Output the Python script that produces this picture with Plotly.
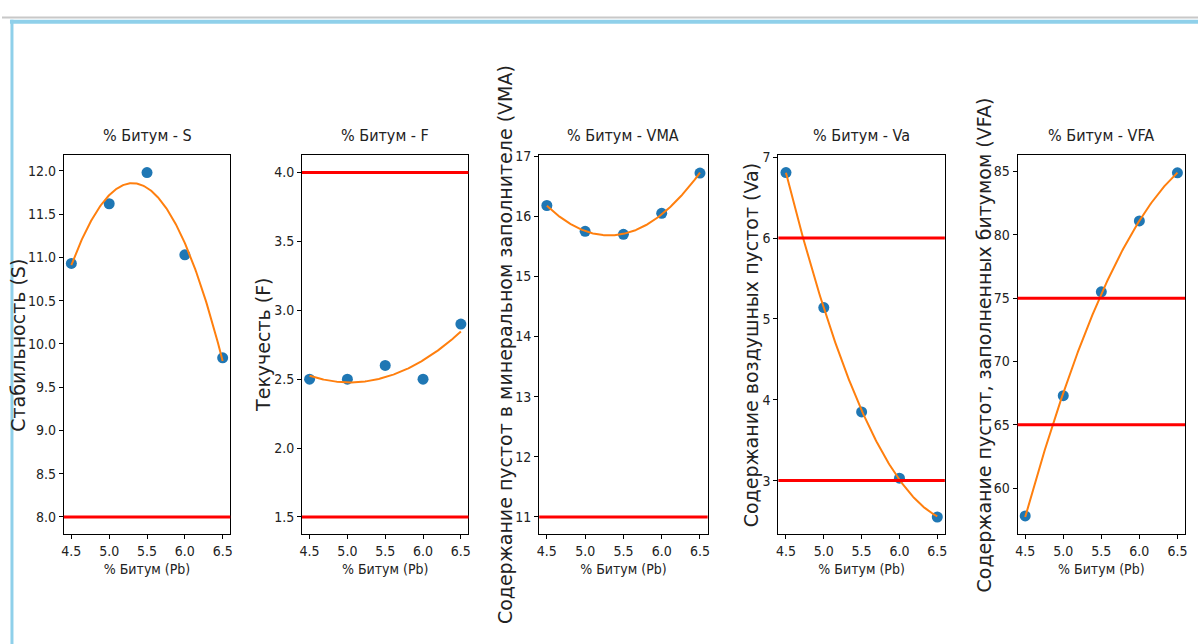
import numpy as np
import plotly.graph_objects as go

# ---- data ----
bitumen = [4.5, 5.0, 5.5, 6.0, 6.5]
stability_S = [10.93, 11.62, 11.98, 11.03, 9.84]
flow_F = [2.5, 2.5, 2.6, 2.5, 2.9]
vma = [16.18, 15.75, 15.70, 16.05, 16.72]
va = [6.81, 5.14, 3.85, 3.03, 2.55]
vfa = [57.8, 67.3, 75.5, 81.1, 84.9]

limits_S = [8.0]
limits_F = [1.5, 4.0]
limits_VMA = [11.0]
limits_Va = [3.0, 6.0]
limits_VFA = [65.0, 75.0]

titles = ["% Битум - S", "% Битум - F", "% Битум - VMA", "% Битум - Va", "% Битум - VFA"]
ylabels = [
    "Стабильность (S)",
    "Текучесть (F)",
    "Содержание пустот в минеральном заполнителе (VMA)",
    "Содержание воздушных пустот (Va)",
    "Содержание пустот, заполненных битумом (VFA)",
]
xlabel = "% Битум (Pb)"
ytick_step = [0.5, 0.5, 1, 1, 5]
ytick_fmt = [".1f", ".1f", "d", "d", "d"]

series = [stability_S, flow_F, vma, va, vfa]
limits = [limits_S, limits_F, limits_VMA, limits_Va, limits_VFA]

# ---- layout geometry (pixels) ----
W, H = 1200, 644
x_px = [(62, 229), (301, 468), (539, 708), (779, 946), (1019, 1187)]
ylabel_x_px = [16, 262, 504, 751, 985]
top_px, bot_px = 150, 533

BLUE = "#1f77b4"
ORANGE = "#ff7f0e"
RED = "#ff0000"
COND = "DejaVu Sans Condensed, Liberation Sans Narrow, Roboto Condensed, DejaVu Sans"
WIDE = "DejaVu Sans, Verdana, sans-serif"

fig = go.Figure()
xs_fit = np.linspace(min(bitumen), max(bitumen), 200)

annotations = []
shapes = []
ydom = [1 - bot_px / H, 1 - top_px / H]

for i, (ys, lims) in enumerate(zip(series, limits)):
    n = "" if i == 0 else str(i + 1)
    xa, ya = "x" + n, "y" + n
    coef = np.polyfit(bitumen, ys, 2)
    yfit = np.polyval(coef, xs_fit)

    fig.add_trace(go.Scatter(x=bitumen, y=ys, mode="markers", xaxis=xa, yaxis=ya,
                             marker=dict(color=BLUE, size=11, line=dict(width=0)),
                             showlegend=False))
    fig.add_trace(go.Scatter(x=xs_fit, y=yfit, mode="lines", xaxis=xa, yaxis=ya,
                             line=dict(color=ORANGE, width=2), showlegend=False))
    for v in lims:
        shapes.append(dict(type="line", xref=xa + " domain", yref=ya, x0=0, x1=1,
                           y0=v, y1=v, line=dict(color=RED, width=3), layer="above"))

    # matplotlib-like autoscale with 5% margins
    lo = min(min(ys), min(yfit), min(lims))
    hi = max(max(ys), max(yfit), max(lims))
    pad = 0.05 * (hi - lo)
    yr = [lo - pad, hi + pad]
    xpad = 0.05 * (max(bitumen) - min(bitumen))
    xr = [min(bitumen) - xpad, max(bitumen) + xpad]

    x0, x1 = x_px[i]
    axis_common = dict(showgrid=False, zeroline=False, showline=True, linecolor="black",
                       linewidth=1, mirror=True, ticks="outside", ticklen=4,
                       tickcolor="black", tickwidth=1,
                       tickfont=dict(family=COND, size=14, color="#222222"))
    fig.update_layout(**{
        "xaxis" + n: dict(domain=[x0 / W, x1 / W], range=xr, anchor=ya,
                          tickmode="array", tickvals=bitumen,
                          ticktext=[f"{v:.1f}" for v in bitumen],
                          title=dict(text=xlabel, font=dict(family=COND, size=14, color="#222222"),
                                     standoff=6),
                          **axis_common),
        "yaxis" + n: dict(domain=ydom, range=yr, anchor=xa, dtick=ytick_step[i],
                          tick0=0, tickformat=ytick_fmt[i], **axis_common),
    })

    annotations.append(dict(text=titles[i], xref="paper", yref="paper",
                            x=(x0 + x1) / 2 / W, y=1 - 130 / H, showarrow=False,
                            xanchor="center", yanchor="middle",
                            font=dict(family=COND, size=16, color="#222222")))
    annotations.append(dict(text=ylabels[i], xref="paper", yref="paper",
                            x=ylabel_x_px[i] / W, y=1 - (top_px + bot_px) / 2 / H,
                            textangle=-90, showarrow=False,
                            xanchor="center", yanchor="middle",
                            font=dict(family=WIDE, size=19, color="#222222")))

# window frame decoration of the screenshot
shapes += [
    dict(type="line", xref="paper", yref="paper", x0=0, x1=1, y0=1 - 10.5 / H, y1=1 - 10.5 / H,
         line=dict(color="#c8c8c8", width=2)),
    dict(type="line", xref="paper", yref="paper", x0=8 / W, x1=1, y0=1 - 15 / H, y1=1 - 15 / H,
         line=dict(color="#8fd0ea", width=4)),
    dict(type="line", xref="paper", yref="paper", x0=10 / W, x1=10 / W, y0=0, y1=1 - 13 / H,
         line=dict(color="#8fd0ea", width=3)),
]

fig.update_layout(width=W, height=H, margin=dict(l=0, r=0, t=0, b=0),
                  paper_bgcolor="white", plot_bgcolor="white",
                  annotations=annotations, shapes=shapes, showlegend=False)

fig.write_html("out.html", config={"displayModeBar": False},
               post_script="document.body.style.margin='0';document.body.style.padding='0';"
                           "document.documentElement.style.overflow='hidden';")
